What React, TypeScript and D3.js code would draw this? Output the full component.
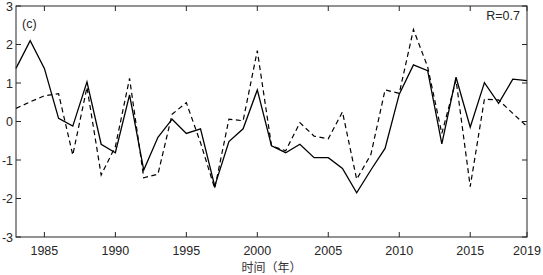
import React from "react";
import * as d3 from "d3";

const years: number[] = d3.range(1983, 2020);
const solidValues: number[] = [
  1.38, 2.10, 1.38, 0.08, -0.12, 1.03, -0.59, -0.81, 0.69, -1.26,
  -0.41, 0.06, -0.31, -0.19, -1.68, -0.52, -0.19, 0.82, -0.63, -0.81,
  -0.59, -0.94, -0.94, -1.22, -1.85, -1.26, -0.70, 0.71, 1.47, 1.32,
  -0.58, 1.15, -0.15, 1.01, 0.47, 1.10, 1.06,
];
const dashedValues: number[] = [
  0.34, 0.51, 0.67, 0.72, -0.87, 0.89, -1.39, -0.65, 1.12, -1.46,
  -1.37, 0.19, 0.49, -0.55, -1.74, 0.06, 0.02, 1.84, -0.63, -0.76,
  -0.03, -0.38, -0.45, 0.25, -1.5, -0.86, 0.82, 0.73, 2.39, 1.42,
  -0.31, 1.08, -1.69, 0.58, 0.56, 0.21, -0.13,
];
const xTicks: number[] = [1985, 1990, 1995, 2000, 2005, 2010, 2015, 2019];
const yTicks: number[] = [-3, -2, -1, 0, 1, 2, 3];
const panelLabel = "(c)";
const corrLabel = "R=0.7";
const xTitle = "时间（年）";

const W = 543;
const H = 275;
const L = 16, R = 527, T = 6, B = 237;
const axisColor = "#262626";
const font = "'Liberation Sans', Arial, sans-serif";

export default function App() {
  const x = d3.scaleLinear().domain([1983, 2019]).range([L, R]);
  const y = d3.scaleLinear().domain([-3, 3]).range([B, T]);
  const line = d3.line<number>().x((_, i) => x(years[i])).y((d) => y(d));
  const tl = 5;
  return (
    <svg width={W} height={H} style={{ position: "absolute", left: 0, top: 0, background: "#fff" }}>
      <rect x={0} y={0} width={W} height={H} fill="#fff" />
      <path d={line(dashedValues) || ""} fill="none" stroke="#000" strokeWidth={1.2} strokeDasharray="5,3.5" />
      <path d={line(solidValues) || ""} fill="none" stroke="#000" strokeWidth={1.3} />
      <rect x={L} y={T} width={R - L} height={B - T} fill="none" stroke={axisColor} strokeWidth={1} />
      {xTicks.map((t) => (
        <g key={"x" + t}>
          <line x1={x(t)} x2={x(t)} y1={B} y2={B - tl} stroke={axisColor} />
          <line x1={x(t)} x2={x(t)} y1={T} y2={T + tl} stroke={axisColor} />
          <text x={x(t)} y={255} textAnchor="middle" fontSize={12.5} fontFamily={font} fill={axisColor}>{t}</text>
        </g>
      ))}
      {yTicks.map((t) => (
        <g key={"y" + t}>
          <line x1={L} x2={L + tl} y1={y(t)} y2={y(t)} stroke={axisColor} />
          <line x1={R} x2={R - tl} y1={y(t)} y2={y(t)} stroke={axisColor} />
          <text x={L - 3} y={y(t) + 4.5} textAnchor="end" fontSize={12.5} fontFamily={font} fill={axisColor}>{t}</text>
        </g>
      ))}
      <text x={22} y={27.5} fontSize={12.5} fontFamily={font} fill={axisColor}>{panelLabel}</text>
      <text x={R - 7} y={19.5} textAnchor="end" fontSize={12.5} fontFamily={font} fill={axisColor}>{corrLabel}</text>
      <text x={(L + R) / 2} y={272} textAnchor="middle" fontSize={12} fontFamily="'Noto Sans CJK SC', sans-serif" fill="#333">{xTitle}</text>
    </svg>
  );
}
